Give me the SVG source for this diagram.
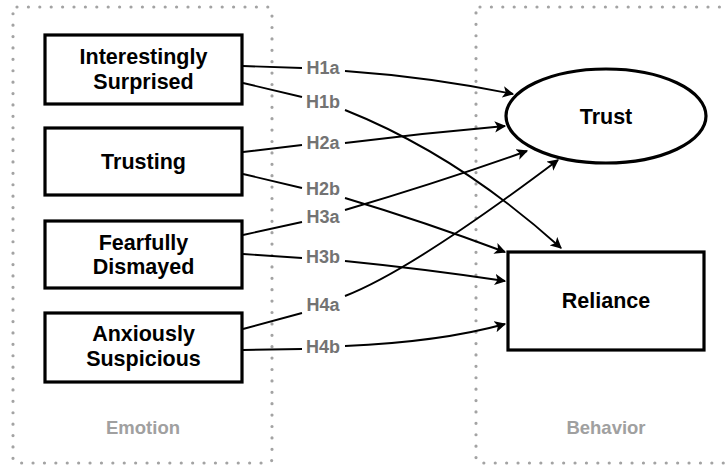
<svg xmlns="http://www.w3.org/2000/svg" width="727" height="465" viewBox="0 0 727 465">
<defs>
<style>
.grp{fill:none;stroke:#a3a3a3;stroke-width:3.2;stroke-dasharray:0 11.4;stroke-linecap:round}
.node{fill:#fff;stroke:#000;stroke-width:3.2}
.nt{font-family:"Liberation Sans",Arial,sans-serif;font-weight:bold;font-size:21.5px;fill:#000;text-anchor:middle}
.gt{font-family:"Liberation Sans",Arial,sans-serif;font-weight:bold;font-size:18.5px;fill:#a0a0a0;text-anchor:middle}
.lt{font-family:"Liberation Sans",Arial,sans-serif;font-weight:bold;font-size:18px;fill:#737373;text-anchor:middle}
.edge{fill:none;stroke:#000;stroke-width:1.9;marker-end:url(#arr)}
</style>
<marker id="arr" viewBox="0 0 10 10" refX="9" refY="5" markerWidth="6" markerHeight="6" orient="auto" markerUnits="strokeWidth">
<path d="M0,0 L10,5 L0,10 L2.5,5 Z" fill="#000"/>
</marker>
</defs>
<g id="groups">
<rect class="grp" x="13" y="7" width="259" height="456" rx="4"/>
<rect class="grp" x="476" y="7" width="270" height="456" rx="4"/>
<text class="gt" x="143" y="434">Emotion</text>
<text class="gt" x="606" y="434">Behavior</text>
</g>
<g id="connectors">
<path class="edge" d="M243,66 L302,68 M345,71 Q430,77 513,94"/>
<path class="edge" d="M243,83 L302,97 M345,110 Q458,155 561,248"/>
<path class="edge" d="M243,152 L302,145 M345,143 Q425,133 505,126"/>
<path class="edge" d="M243,174 L302,188 M345,198 Q425,222 505,252"/>
<path class="edge" d="M243,235 L302,222 M345,210 Q440,182 527,151"/>
<path class="edge" d="M243,254 L302,258 M345,261 Q425,269 505,281"/>
<path class="edge" d="M243,329 L302,313 M345,296 Q412,270 558,160"/>
<path class="edge" d="M243,350 L302,349 M345,346 Q440,342 505,324"/>
<text class="lt" x="323" y="74">H1a</text>
<text class="lt" x="323" y="108">H1b</text>
<text class="lt" x="323" y="149">H2a</text>
<text class="lt" x="323" y="195">H2b</text>
<text class="lt" x="323" y="223">H3a</text>
<text class="lt" x="323" y="263">H3b</text>
<text class="lt" x="323" y="311">H4a</text>
<text class="lt" x="323" y="353">H4b</text>
</g>
<g id="interestingly-surprised">
<rect class="node" x="45" y="35" width="197" height="69"/>
<text class="nt" x="143.5" y="64">Interestingly</text>
<text class="nt" x="143.5" y="89">Surprised</text>
</g>
<g id="trusting">
<rect class="node" x="45" y="128" width="197" height="67"/>
<text class="nt" x="143.5" y="169">Trusting</text>
</g>
<g id="fearfully-dismayed">
<rect class="node" x="45" y="221" width="197" height="67"/>
<text class="nt" x="143.5" y="250">Fearfully</text>
<text class="nt" x="143.5" y="274">Dismayed</text>
</g>
<g id="anxiously-suspicious">
<rect class="node" x="45" y="313" width="197" height="69"/>
<text class="nt" x="143.5" y="341">Anxiously</text>
<text class="nt" x="143.5" y="366">Suspicious</text>
</g>
<g id="trust">
<ellipse class="node" cx="606" cy="116" rx="100" ry="47"/>
<text class="nt" x="606" y="124">Trust</text>
</g>
<g id="reliance">
<rect class="node" x="508" y="252" width="196" height="98"/>
<text class="nt" x="606" y="308">Reliance</text>
</g>
</svg>
